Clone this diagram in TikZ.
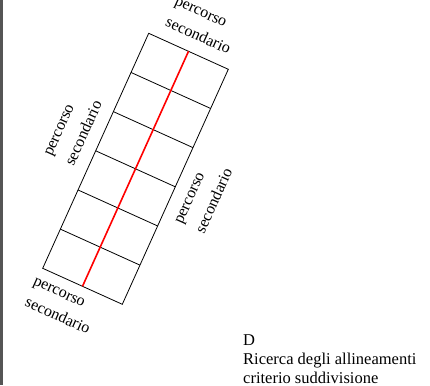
\documentclass[tikz,border=0pt]{standalone}
\usepackage{fontspec}
\setmainfont{Liberation Serif}
\newfontfamily\lblfont{Liberation Serif}
\usepackage{tikz}
\usetikzlibrary{
  calc,
  positioning,
}
\definecolor{pathred}{HTML}{FF0000}
\definecolor{edgegray}{HTML}{555555}

\begin{document}
\begin{tikzpicture}[
    x=1pt, y=-1pt,
    cell/.style={black, line width=0.8pt},
    lbl/.style={font=\lblfont\fontsize{16}{18}\selectfont, inner sep=0pt},
    lblh/.style={lbl, rotate=-24.3},
    lblv/.style={lbl, rotate=65.7},
  ]
  \useasboundingbox (0,0) rectangle (430,385);
  % Left page edge
  \fill[edgegray] (0,0) rectangle (3,385);

  % Strip corners
  \coordinate (tl) at (148.7, 33.3);
  \coordinate (tr) at (228.3, 69.3);
  \coordinate (bl) at (42.7, 268.3);
  \coordinate (br) at (122.3, 304.3);

  % Strip outline and subdivisions
  \draw[cell] (tl) -- (tr) -- (br) -- (bl) -- cycle;
  \foreach \i in {1,...,5}
    \draw[cell] ($(tl)!\i/6!(bl)$) -- ($(tr)!\i/6!(br)$);

  % Alignment axis
  \draw[pathred, line width=1.6pt] ($(tl)!0.5!(tr)$) -- ($(bl)!0.5!(br)$);

  % Labels, one node per line
  \node[lblh] (top1)   at (200, 14)     {percorso};
  \node[lblh] (top2)   at (198.5, 35)   {secondario};
  \node[lblh] (bot1)   at (58.5, 294)   {percorso};
  \node[lblh] (bot2)   at (58, 315)     {secondario};
  \node[lblv] (left1)  at (61, 131)     {percorso};
  \node[lblv] (left2)  at (83, 133)     {secondario};
  \node[lblv] (right1) at (191.5, 199)  {percorso};
  \node[lblv] (right2) at (213.5, 200.5) {secondario};

  \node[font=\lblfont\fontsize{16.5}{19}\selectfont, align=left, inner sep=0pt,
        anchor=north west] (caption) at (243, 334)
    {D\\Ricerca degli allineamenti\\criterio suddivisione};
\end{tikzpicture}
\end{document}
